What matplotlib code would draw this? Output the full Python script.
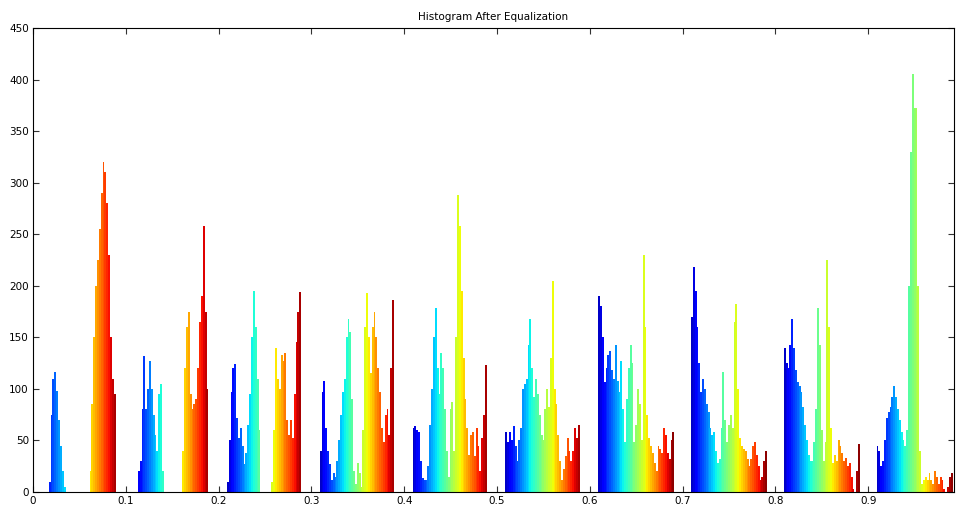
import numpy as np
import matplotlib
matplotlib.use("Agg")
import matplotlib.pyplot as plt

# bin width of the histogram
step = 0.002

# each cluster: start position and bar heights
starts = [0.018, 0.062, 0.114, 0.162, 0.210, 0.258, 0.310, 0.356,
          0.410, 0.456, 0.510, 0.610, 0.710, 0.810, 0.910]

g1 = [10, 75, 110, 116, 98, 70, 45, 20, 5]
g2 = [20, 85, 150, 200, 225, 255, 290, 320, 310, 280, 230, 150, 110, 95]
g3 = [20, 30, 80, 132, 80, 100, 127, 100, 75, 55, 40, 95, 105, 20]
g4 = [40, 120, 160, 175, 95, 80, 85, 90, 120, 165, 190, 258, 175, 100]
g5 = [10, 50, 97, 120, 124, 72, 52, 62, 45, 27, 38, 65, 95, 150, 195, 160, 110, 60]
g6 = [10, 60, 140, 110, 100, 133, 127, 135, 70, 55, 70, 52, 95, 145, 175, 194]
g7 = [40, 97, 108, 62, 40, 27, 12, 18, 15, 30, 50, 75, 97, 110, 150, 168, 155, 90,
      20, 8, 28, 18, 5]
g8 = [60, 160, 193, 150, 115, 160, 175, 150, 120, 97, 62, 48, 75, 80, 55, 120, 186]
g9 = [62, 64, 60, 58, 30, 14, 12, 12, 25, 65, 100, 150, 178, 120, 95, 135, 120, 80,
      40, 15, 80, 87, 40]
g10 = [150, 288, 258, 195, 130, 90, 62, 36, 55, 58, 35, 62, 45, 20, 52, 75, 123]
g11 = [58, 48, 58, 50, 64, 45, 30, 50, 62, 100, 105, 110, 143, 168, 120, 92, 110, 95,
       75, 55, 50, 80, 100, 82, 130, 205, 100, 85, 55, 30, 12, 22, 35, 52, 40, 30,
       40, 62, 52, 65]
g12 = [190, 180, 150, 107, 120, 133, 137, 118, 110, 143, 108, 97, 127, 80, 48, 90,
       120, 143, 125, 48, 65, 100, 85, 50, 230, 160, 75, 52, 45, 38, 28, 20, 45, 42,
       38, 62, 55, 38, 32, 50, 58]
g13 = [170, 218, 195, 160, 125, 97, 110, 100, 85, 78, 62, 55, 58, 40, 28, 32, 62, 116,
       70, 48, 65, 75, 62, 165, 182, 100, 52, 45, 42, 40, 32, 25, 32, 45, 48, 36, 25,
       12, 15, 30, 40]
g14 = [140, 125, 120, 143, 168, 140, 118, 107, 103, 97, 82, 65, 50, 36, 30, 30, 48, 80,
       178, 143, 60, 30, 48, 225, 160, 62, 28, 36, 30, 50, 45, 38, 30, 33, 25, 28, 15,
       3, 0, 20, 47]
g15 = [45, 40, 25, 30, 50, 72, 78, 82, 92, 103, 92, 80, 70, 58, 50, 45, 60, 200, 330,
       405, 372, 372, 200, 40, 8, 12, 15, 12, 18, 12, 8, 20, 15, 8, 15, 12, 3, 0, 5,
       15, 18]

groups = [g1, g2, g3, g4, g5, g6, g7, g8, g9, g10, g11, g12, g13, g14, g15]

xticks = [0, 0.1, 0.2, 0.3, 0.4, 0.5, 0.6, 0.7, 0.8, 0.9]
xlabels = ["0", "0.1", "0.2", "0.3", "0.4", "0.5", "0.6", "0.7", "0.8", "0.9"]
yticks = list(range(0, 451, 50))

x = []
h = []
for s, g in zip(starts, groups):
    for i, v in enumerate(g):
        x.append(s + i * step)
        h.append(v)
x = np.array(x)
h = np.array(h)

# colour runs through jet within every tenth (blue at .x1, dark red at .x9)
frac = (x * 10) % 1.0
colors = plt.cm.jet(np.clip(frac * 1.15 - 0.05, 0, 1))

fig = plt.figure(figsize=(9.56, 5.13), dpi=100)
ax = fig.add_axes([0.0345, 0.041, 0.9635, 0.9045])
ax.bar(x, h, width=step * 1.05, color=colors, linewidth=0)

ax.set_xlim(0, 0.9925)
ax.set_ylim(0, 450)
ax.set_xticks(xticks)
ax.set_xticklabels(xlabels)
ax.set_yticks(yticks)
ax.tick_params(direction="in", top=True, right=True, length=4, labelsize=7.5,
               width=0.8, colors="#333333", labelcolor="black", pad=3)
for sp in ax.spines.values():
    sp.set_linewidth(0.8)
ax.set_title("Histogram After Equalization", fontsize=7.5, pad=6)

fig.savefig("out.png", dpi=100)
